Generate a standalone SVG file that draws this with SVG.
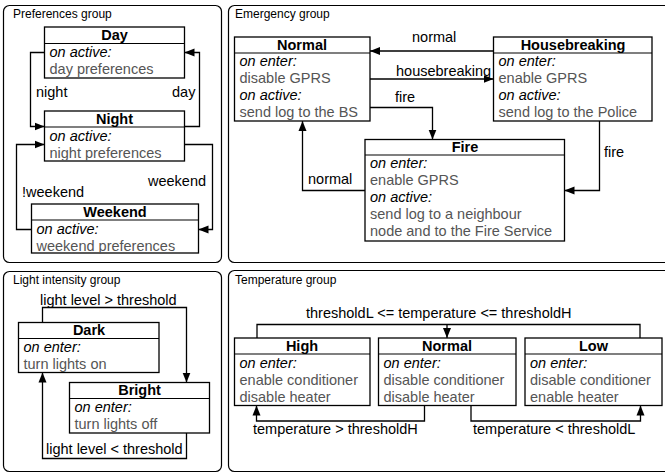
<svg xmlns="http://www.w3.org/2000/svg" width="665" height="473" viewBox="0 0 665 473">
<defs>
<marker id="ah" viewBox="0 0 10 10" refX="10" refY="5" markerWidth="10" markerHeight="10" markerUnits="userSpaceOnUse" orient="auto">
<path d="M0,1 L10,5 L0,9 Z" fill="#000"/>
</marker>
<style>
text{font-family:"Liberation Sans",Arial,Helvetica,sans-serif;font-size:14.5px;fill:#000}
.grp{fill:#fff;stroke:#000;stroke-width:1.2}
.gl{font-size:12px}
.box{fill:#fff;stroke:#000;stroke-width:1.3}
.hd{stroke:#000;stroke-width:1.1}
.t{font-weight:bold;text-anchor:middle}
.i{font-style:italic}
.b{fill:#555}
.c{fill:none;stroke:#000;stroke-width:1.3}
.a{marker-end:url(#ah)}
</style>
</defs>
<rect width="665" height="473" fill="#fff"/>

<g id="groups">
<rect class="grp" x="3.5" y="5.5" width="218" height="257" rx="6"/>
<text class="gl" x="13" y="18">Preferences group</text>
<rect class="grp" x="228.5" y="5.5" width="445" height="257" rx="6"/>
<text class="gl" x="235" y="18">Emergency group</text>
<rect class="grp" x="3.5" y="271.5" width="218" height="200" rx="6"/>
<text class="gl" x="13" y="284">Light intensity group</text>
<rect class="grp" x="228.5" y="270.5" width="445" height="201" rx="6"/>
<text class="gl" x="235" y="284">Temperature group</text>
</g>

<g id="connectors">
<!-- Preferences -->
<path class="c a" d="M44.5,52.5 H30.5 V126.5 H44.5"/>
<text x="36" y="97">night</text>
<path class="c a" d="M184.5,126.5 H199.5 V52.5 H184.5"/>
<text x="172" y="97">day</text>
<path class="c a" d="M184.5,144.5 H212.5 V229.5 H198.5"/>
<text x="148" y="186">weekend</text>
<path class="c a" d="M31.5,229.5 H16.5 V144.5 H44.5"/>
<text x="22" y="197">!weekend</text>
<!-- Emergency -->
<path class="c a" d="M493.5,51 H370"/>
<text x="412" y="42">normal</text>
<path class="c a" d="M370,79 H493.5"/>
<text x="396" y="76">housebreaking</text>
<path class="c a" d="M370,107.5 H432.5 V139.5"/>
<text x="395" y="102">fire</text>
<path class="c a" d="M599.5,121 V190.5 H564.5"/>
<text x="604" y="157">fire</text>
<path class="c a" d="M365,190.5 H302.5 V121"/>
<text x="308" y="184">normal</text>
<!-- Light -->
<path class="c a" d="M42.5,322.5 V307.5 H186.5 V382.5"/>
<text x="40" y="305">light level &gt; threshold</text>
<path class="c a" d="M186.5,433 V458.5 H42.5 V372.5"/>
<text x="46" y="454">light level &lt; threshold</text>
<!-- Temperature -->
<path class="c" d="M257,338 V324.5 H640 V338"/>
<path class="c a" d="M447,324.5 V338"/>
<text x="306" y="318">thresholdL &lt;= temperature &lt;= thresholdH</text>
<path class="c a" d="M424.5,405.5 V421 H256.5 V405.5"/>
<text x="253" y="434">temperature &gt; thresholdH</text>
<path class="c a" d="M471,405.5 V421 H640.5 V405.5"/>
<text x="473" y="434">temperature &lt; thresholdL</text>
</g>

<g id="day">
<rect class="box" x="44.5" y="27" width="140" height="51"/>
<line class="hd" x1="44.5" y1="43.5" x2="184.5" y2="43.5"/>
<text class="t" x="114.5" y="40">Day</text>
<text class="i" x="49.5" y="57">on active:</text>
<text class="b" x="49.5" y="74">day preferences</text>
</g>
<g id="night">
<rect class="box" x="44.5" y="111" width="140" height="50"/>
<line class="hd" x1="44.5" y1="127" x2="184.5" y2="127"/>
<text class="t" x="114.5" y="124">Night</text>
<text class="i" x="49.5" y="141">on active:</text>
<text class="b" x="49.5" y="158">night preferences</text>
</g>
<g id="weekend">
<rect class="box" x="31.5" y="204" width="167" height="49"/>
<line class="hd" x1="31.5" y1="220" x2="198.5" y2="220"/>
<text class="t" x="115" y="217">Weekend</text>
<text class="i" x="36.5" y="234">on active:</text>
<text class="b" x="36.5" y="251">weekend preferences</text>
</g>

<g id="em-normal">
<rect class="box" x="234.5" y="37" width="135.5" height="84"/>
<line class="hd" x1="234.5" y1="53" x2="370" y2="53"/>
<text class="t" x="302" y="50">Normal</text>
<text class="i" x="239.5" y="66">on enter:</text>
<text class="b" x="239.5" y="83">disable GPRS</text>
<text class="i" x="239.5" y="100">on active:</text>
<text class="b" x="239.5" y="117">send log to the BS</text>
</g>
<g id="housebreaking">
<rect class="box" x="493.5" y="37" width="158.5" height="84"/>
<line class="hd" x1="493.5" y1="53" x2="652" y2="53"/>
<text class="t" x="573" y="50">Housebreaking</text>
<text class="i" x="498.5" y="66">on enter:</text>
<text class="b" x="498.5" y="83">enable GPRS</text>
<text class="i" x="498.5" y="100">on active:</text>
<text class="b" x="498.5" y="117">send log to the Police</text>
</g>
<g id="fire">
<rect class="box" x="365" y="139.5" width="199.5" height="101.5"/>
<line class="hd" x1="365" y1="155" x2="564.5" y2="155"/>
<text class="t" x="465" y="152">Fire</text>
<text class="i" x="370" y="168">on enter:</text>
<text class="b" x="370" y="185">enable GPRS</text>
<text class="i" x="370" y="202">on active:</text>
<text class="b" x="370" y="219">send log to a neighbour</text>
<text class="b" x="370" y="236">node and to the Fire Service</text>
</g>

<g id="dark">
<rect class="box" x="18.5" y="322.5" width="140.5" height="50"/>
<line class="hd" x1="18.5" y1="338.5" x2="159" y2="338.5"/>
<text class="t" x="89" y="335">Dark</text>
<text class="i" x="23.5" y="352">on enter:</text>
<text class="b" x="23.5" y="369">turn lights on</text>
</g>
<g id="bright">
<rect class="box" x="69.5" y="382.5" width="140" height="50.5"/>
<line class="hd" x1="69.5" y1="398.5" x2="209.5" y2="398.5"/>
<text class="t" x="139.5" y="395">Bright</text>
<text class="i" x="74.5" y="412">on enter:</text>
<text class="b" x="74.5" y="429">turn lights off</text>
</g>

<g id="high">
<rect class="box" x="234.5" y="338" width="135.5" height="67.5"/>
<line class="hd" x1="234.5" y1="354" x2="370" y2="354"/>
<text class="t" x="302" y="351">High</text>
<text class="i" x="239.5" y="368">on enter:</text>
<text class="b" x="239.5" y="385">enable conditioner</text>
<text class="b" x="239.5" y="402">disable heater</text>
</g>
<g id="temp-normal">
<rect class="box" x="378.5" y="338" width="137.5" height="67.5"/>
<line class="hd" x1="378.5" y1="354" x2="516" y2="354"/>
<text class="t" x="447" y="351">Normal</text>
<text class="i" x="383.5" y="368">on enter:</text>
<text class="b" x="383.5" y="385">disable conditioner</text>
<text class="b" x="383.5" y="402">disable heater</text>
</g>
<g id="low">
<rect class="box" x="525" y="338" width="137" height="67.5"/>
<line class="hd" x1="525" y1="354" x2="662" y2="354"/>
<text class="t" x="593.5" y="351">Low</text>
<text class="i" x="530" y="368">on enter:</text>
<text class="b" x="530" y="385">disable conditioner</text>
<text class="b" x="530" y="402">enable heater</text>
</g>
</svg>
